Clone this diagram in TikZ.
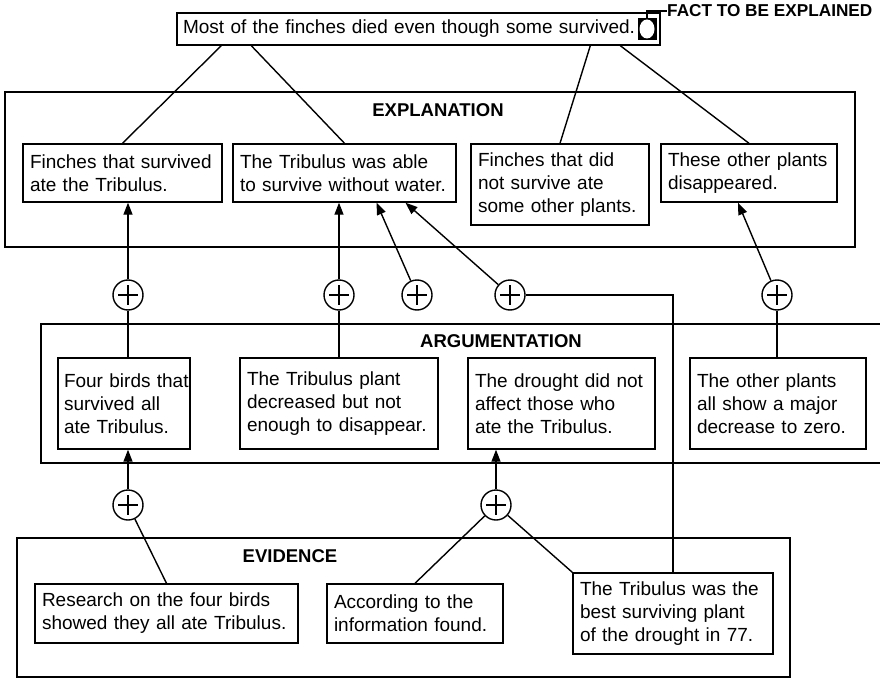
\documentclass[tikz,border=0pt]{standalone}
\usepackage{fontspec}
\setmainfont{Liberation Sans}
\usetikzlibrary{arrows.meta,calc}
\begin{document}
\begin{tikzpicture}[x=1pt,y=-1pt,
  every node/.style={font=\fontsize{19}{23}\selectfont},
  tbox/.style={draw, line width=1.4pt, rectangle, align=left, inner xsep=7pt, inner ysep=0pt},
  frame/.style={draw, line width=1.6pt},
  sect/.style={font=\fontsize{18.5}{22}\selectfont\bfseries, inner sep=0pt},
  plus/.style={draw, circle, line width=1.4pt, minimum size=30pt, inner sep=0pt,
    path picture={\draw[line width=1.7pt]
      ($(path picture bounding box.center)+(-10,0)$) -- ++(20,0)
      ($(path picture bounding box.center)+(0,-10)$) -- ++(0,20);}},
  link/.style={line width=1.4pt},
  arr/.style={link, -{Triangle[length=12pt,width=9pt]}}
]
\useasboundingbox (0,0) rectangle (880,679);

% layer frames
\draw[frame] (5,92) rectangle (855,247);
\draw[frame] (880,324) -- (41,324) -- (41,463) -- (880,463);
\draw[frame] (17,538) rectangle (790,677);

\node[sect] (lexp) at (438,110) {EXPLANATION};
\node[sect] (larg) at (501,341) {ARGUMENTATION};
\node[sect] (lev)  at (290,556) {EVIDENCE};

% fact to be explained
\node[tbox, text width=471pt, minimum height=32pt, inner xsep=6pt] (fact) at (418.5,29)
  {Most of the finches died even though some survived.};
\node[fill=black, minimum width=19pt, minimum height=22pt, inner sep=0pt] (icon) at (647,29) {};
\fill[white] (icon.center) ellipse [x radius=7.5, y radius=9.5];
\node[font=\fontsize{17.2}{20}\selectfont\bfseries, anchor=west, inner sep=0pt] (factlbl) at (667,11)
  {FACT TO BE EXPLAINED};
\draw[line width=1.1pt] (icon.north) -- (icon.north |- factlbl.west) -- (factlbl.west);

% explanation
\node[tbox, text width=185pt, minimum height=58pt] (e1) at (122.5,173)
  {Finches that survived\\ate the Tribulus.};
\node[tbox, text width=209pt, minimum height=58pt] (e2) at (344.5,173)
  {The Tribulus was able\\to survive without water.};
\node[tbox, text width=164pt, minimum height=81pt] (e3) at (560,184.5)
  {Finches that did\\not survive ate\\some other plants.};
\node[tbox, text width=162pt, minimum height=58pt] (e4) at (749,173)
  {These other plants\\disappeared.};

% argumentation
\node[tbox, text width=120pt, inner xsep=6pt, minimum height=91pt] (a1) at (124,403.5)
  {\mbox{Four birds that}\\survived all\\ate Tribulus.};
\node[tbox, text width=184pt, minimum height=91pt] (a2) at (339,403.5)
  {The Tribulus plant\\decreased but not\\enough to disappear.};
\node[tbox, text width=173pt, minimum height=91pt] (a3) at (561.5,403.5)
  {The drought did not\\affect those who\\ate the Tribulus.};
\node[tbox, text width=162pt, minimum height=91pt] (a4) at (778,403.5)
  {The other plants\\all show a major\\decrease to zero.};

% evidence
\node[tbox, text width=249pt, minimum height=59pt] (ev1) at (166.5,613.5)
  {Research on the four birds\\showed they all ate Tribulus.};
\node[tbox, text width=162pt, minimum height=59pt] (ev2) at (415,613.5)
  {According to the\\information found.};
\node[tbox, text width=186pt, minimum height=81pt] (ev3) at (673,613.5)
  {The Tribulus was the\\best surviving plant\\of the drought in 77.};

% support junctions
\node[plus] (p1) at (128,295) {};
\node[plus] (p2) at (339,295) {};
\node[plus] (p3) at (417,295) {};
\node[plus] (p4) at (510,295) {};
\node[plus] (p5) at (777,295) {};
\node[plus] (p6) at (128,505) {};
\node[plus] (p7) at (496,505) {};

% fact decomposition
\draw[link] ($(fact.south west)+(45,0)$) -- (e1.north);
\draw[link] ($(fact.south west)+(75,0)$) -- (e2.north);
\draw[link] ($(fact.south west)+(414,0)$) -- (e3.north);
\draw[link] ($(fact.south west)+(444,0)$) -- (e4.north);

% argumentation supports explanation
\draw[arr] (p1) -- (p1 |- e1.south);
\draw[link] (p1) -- (p1 |- a1.north);
\draw[arr] (p2) -- (p2 |- e2.south);
\draw[link] (p2) -- (p2 |- a2.north);
\draw[arr] (p3) -- ($(e2.south)+(32,0)$);
\draw[arr] (p4) -- ($(e2.south)+(61,0)$);
\draw[link] (p4) -| (ev3.north);
\draw[arr] (p5) -- ($(e4.south)+(-11,0)$);
\draw[link] (p5) -- (p5 |- a4.north);

% evidence supports argumentation
\draw[arr] (p6) -- (p6 |- a1.south);
\draw[link] (p6) -- (ev1.north);
\draw[arr] (p7) -- (p7 |- a3.south);
\draw[link] (p7) -- (ev2.north);
\draw[link] (p7) -- (ev3.north west);
\end{tikzpicture}
\end{document}
